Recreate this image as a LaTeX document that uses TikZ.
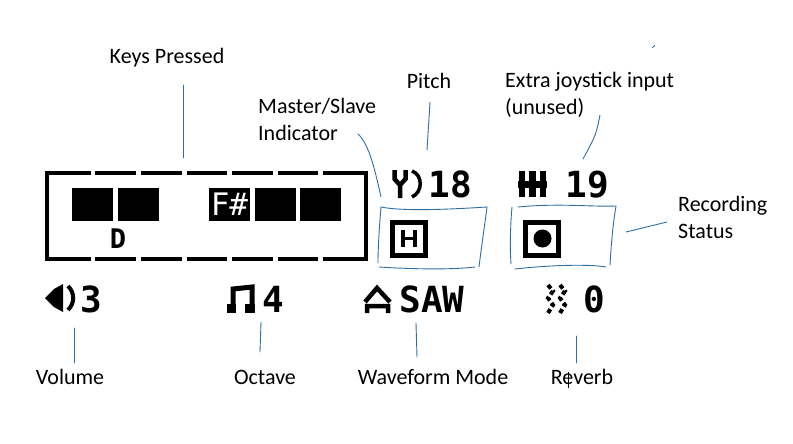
\documentclass[tikz,border=0pt]{standalone}
\usepackage{fontspec}
\setmainfont{Carlito}
\newfontfamily\lcd{DejaVu Sans Mono Bold}
\newfontfamily\lcdthin{DejaVu Sans Mono}
\definecolor{ink}{HTML}{2E6FA3}
\tikzset{
  lab/.style={font=\fontsize{22}{27}\selectfont,text=black,inner sep=0pt,align=left},
  ink/.style={draw=ink,line width=0.9pt,line cap=round,line join=round},
  lcdbar/.style={fill=black,draw=none},
  lcdtxt/.style={font=\lcd\fontsize{36}{36}\selectfont,inner sep=0pt,text=black},
}
\begin{document}
\begin{tikzpicture}[x=1pt,y=-1pt]
\useasboundingbox (0,0) rectangle (793,444);
% display frame
\foreach \a/\b in {45/91,95/136,141/182,187/227,232/273,278/318,323/368}{
  \fill[lcdbar] (\a,171) rectangle (\b,175);
  \fill[lcdbar] (\a,257) rectangle (\b,261);
}
\fill[lcdbar] (45,171) rectangle (49,261);
\fill[lcdbar] (364,171) rectangle (368,261);
% keys
\foreach \a in {72,118,255,300}{\fill[lcdbar] (\a,188) rectangle ++(41,33);}
\fill[lcdbar] (209,188) rectangle (250,221);
\node[inner sep=0pt,text=white,font=\lcdthin\fontsize{31}{31}\selectfont] (sharp) at (229.5,204.5) {F\#};
\node[inner sep=0pt,font=\lcd\fontsize{27}{27}\selectfont] (keyd) at (118,239) {D};
% labels
\node[lab] (keys) at (167,58) {Keys Pressed};
\node[lab,anchor=west] (master) at (258,119.5) {Master/Slave\\Indicator};
\node[lab] (pitch) at (429,81) {Pitch};
\node[lab,anchor=west] (extra) at (505,94.5) {Extra joystick input\\(unused)};
\node[lab,anchor=west] (rec) at (678,217.5) {Recording\\Status};
\node[lab] (vol) at (70,377) {Volume};
\node[lab] (oct) at (265,377) {Octave};
\node[lab] (wave) at (433,377) {Waveform Mode};
\node[lab] (rev) at (582,377) {Reverb};
% lcd values
\node[lcdtxt] (vpitch) at (450,184.5) {18};
\node[lcdtxt] (vjoy) at (587,184.5) {19};
\node[lcdtxt] (vvol) at (91,299) {3};
\node[lcdtxt] (voct) at (273,299) {4};
\node[lcdtxt] (vwave) at (432,299) {SAW};
\node[lcdtxt] (vrev) at (594,299) {0};
% master icon
\draw[line width=5pt] (392.5,222.5) rectangle (425.5,255.5);
\draw[line width=3.5pt] (403,230) -- (403,247) (415,230) -- (415,247) (403,238.5) -- (415,238.5);
% rec icon
\draw[line width=5pt] (525.5,222.5) rectangle (558.5,255.5);
\fill (542.5,238.5) circle (9);
% pitch icon
\draw[line width=4.5pt] (394.5,170) -- (394.5,179) -- (400,185) -- (405.5,179) -- (405.5,170) (400,184) -- (400,198);
\draw[line width=3.5pt] (412,171) .. controls (423,175) and (423,192) .. (412,197);
% joystick icon
\draw[line width=6.5pt] (522,171) -- (522,197) (532.5,171) -- (532.5,197) (543,171) -- (543,197);
\draw[line width=7pt] (518,184) -- (547,184);
% volume icon
\fill (45,298) -- (54,289) -- (63,284) -- (63,312) -- (54,307) -- cycle;
\draw[line width=4pt] (68,286) .. controls (75,293) and (75,303) .. (68,310);
% octave icon
\draw[line width=5pt] (233,310) -- (233,289) -- (252,287) -- (252,310);
\fill (227,304) rectangle (236,313);
\fill (245,304) rectangle (255,313);
% waveform icon
\draw[line width=4.5pt] (365,302) -- (377,288) -- (390,302) (367,313) -- (367,306) -- (388,306) -- (388,313);
% reverb icon
\foreach \x in {548,560}{\draw[line width=4pt,dash pattern=on 4.5pt off 3pt] (\x,285) -- (\x+5,291) -- (\x,298) -- (\x+5,305) -- (\x,313);}
% ink boxes
\draw[ink] (381,207) .. controls (400,211) and (440,210) .. (487,207);
\draw[ink] (487,207) .. controls (484,230) and (481,250) .. (479,267);
\draw[ink] (379,267) .. controls (410,269) and (450,270) .. (475,267);
\draw[ink] (381,207) .. controls (379,230) and (378,250) .. (378,263);
\draw[ink] (518,207) .. controls (560,203) and (590,207) .. (616,206);
\draw[ink] (616,206) .. controls (612,230) and (611,250) .. (610,265);
\draw[ink] (515,269) .. controls (550,265) and (590,264) .. (606,267);
\draw[ink] (512,207) .. controls (510,230) and (510,250) .. (511,264);
% connectors
\coordinate (c1) at (183,158);
\draw[ink] (183,85) -- (c1);
\coordinate (c2a) at (358,134); \coordinate (c2b) at (381,197);
\draw[ink] (c2a) .. controls (370,145) and (376,175) .. (c2b);
\coordinate (c3a) at (430,102); \coordinate (c3b) at (427,150);
\draw[ink] (c3a) -- (c3b);
\coordinate (c4a) at (600,115); \coordinate (c4b) at (583,159);
\draw[ink] (c4a) .. controls (596,135) .. (c4b);
\coordinate (c5a) at (667,222); \coordinate (c5b) at (626,232);
\draw[ink] (c5a) -- (c5b);
\coordinate (c6a) at (74,328); \coordinate (c6b) at (74,363);
\draw[ink] (c6a) -- (c6b);
\coordinate (c7a) at (261,322); \coordinate (c7b) at (260,352);
\draw[ink] (c7a) -- (c7b);
\coordinate (c8a) at (416,323); \coordinate (c8b) at (417,357);
\draw[ink] (c8a) -- (c8b);
\coordinate (c9a) at (576,336); \coordinate (c9b) at (576,363);
\draw[ink] (c9a) -- (c9b);
\coordinate (c10a) at (654.5,45.5); \coordinate (c10b) at (652.5,47.5);
\draw[ink] (c10a) -- (c10b);
% text cursor over Reverb
\draw[line width=0.5pt] (568.5,372) -- (568.5,388);
\end{tikzpicture}
\end{document}
